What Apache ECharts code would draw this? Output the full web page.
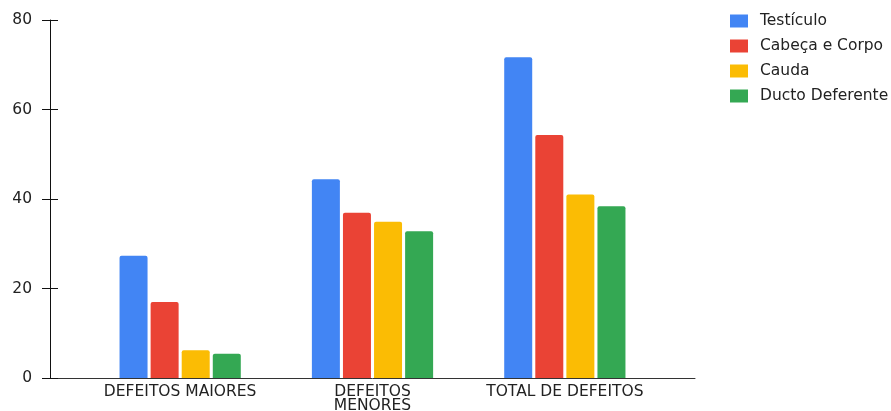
<!DOCTYPE html>
<html><head><meta charset="utf-8">
<script src="https://cdn.jsdelivr.net/npm/echarts@6/dist/echarts.min.js"></script>
<style>html,body{margin:0;padding:0;background:#fff}#c{width:891px;height:411px}</style>
</head><body><div id="c"></div>
<script>
const categories = ['DEFEITOS MAIORES', 'DEFEITOS\nMENORES', 'TOTAL DE DEFEITOS'];
const seriesNames = ['Testículo', 'Cabeça e Corpo', 'Cauda', 'Ducto Deferente'];
const testiculo = [27.3, 44.4, 71.7];
const cabecaCorpo = [17.0, 36.9, 54.3];
const cauda = [6.2, 34.9, 41.0];
const ductoDeferente = [5.4, 32.8, 38.4];
const yTicks = [0, 20, 40, 60, 80];
const colors = ['#4285F4', '#EA4335', '#FBBC04', '#34A853'];

const values = [testiculo, cabecaCorpo, cauda, ductoDeferente];
const font = 'DejaVu Sans, Liberation Sans, sans-serif';
const fs = 15.5;
const chart = echarts.init(document.getElementById('c'), null, {renderer: 'canvas'});
chart.setOption({
  animation: false,
  color: colors,
  textStyle: {fontFamily: font},
  legend: {
    orient: 'vertical', left: 725, top: 8,
    itemWidth: 18, itemHeight: 13, itemGap: 9,
    icon: 'rect',
    textStyle: {fontSize: fs, color: '#222', fontFamily: font, padding: [0, 0, 0, 7]},
    data: seriesNames
  },
  grid: [
    {left: 84, width: 577, top: 20, bottom: 33, outerBoundsMode: 'none', containLabel: false},
    {left: 50, right: 196, top: 20, bottom: 33, outerBoundsMode: 'none', containLabel: false}
  ],
  xAxis: [
    {type: 'category', gridIndex: 0, data: categories,
     axisLine: {show: false}, axisTick: {show: false},
     axisLabel: {interval: 0, hideOverlap: false, fontSize: fs, color: '#222', margin: 7, lineHeight: 14, fontFamily: font}},
    {type: 'value', gridIndex: 1, min: 0, max: 1,
     axisLine: {show: true, lineStyle: {color: '#333', width: 1}},
     axisTick: {show: false}, axisLabel: {show: false}, splitLine: {show: false}}
  ],
  yAxis: [
    {type: 'value', gridIndex: 0, min: yTicks[0], max: yTicks[yTicks.length - 1], interval: 20,
     offset: 34,
     axisLine: {show: true, lineStyle: {color: '#111', width: 1}},
     axisTick: {show: true, length: 8, lineStyle: {color: '#111'}},
     axisLabel: {fontSize: fs, color: '#222', margin: 18, fontFamily: font},
     splitLine: {show: false}},
    {type: 'value', gridIndex: 0, min: yTicks[0], max: yTicks[yTicks.length - 1], interval: 20,
     offset: 34, position: 'left',
     axisLine: {show: false},
     axisTick: {show: true, inside: true, length: 8, lineStyle: {color: '#111'}},
     axisLabel: {show: false}, splitLine: {show: false}},
    {type: 'value', gridIndex: 1, min: 0, max: 80, show: false}
  ],
  series: seriesNames.map((n, i) => ({
    name: n, type: 'bar', xAxisIndex: 0, yAxisIndex: 0,
    data: values[i], barWidth: 28, barGap: '11%',
    itemStyle: {color: colors[i], borderRadius: [2, 2, 0, 0]}
  }))
});
</script></body></html>
